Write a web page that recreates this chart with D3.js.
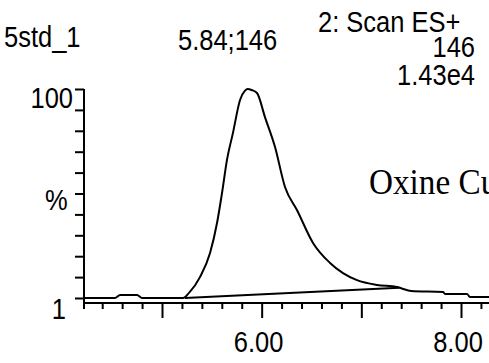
<!DOCTYPE html>
<html>
<head>
  <script src="https://d3js.org/d3.v7.min.js"></script>
  <style type="text/css">
    body { margin: 0; background: #fff; }
    svg { display: block; }
    .lbl { font-family: "Liberation Sans", Arial, sans-serif; font-size: 30px; fill: #000; }
    .axis path, .axis line { stroke: #000; stroke-width: 2px; }
  </style>
</head>
<body>
<svg id="chart" width="489" height="363"></svg>

<script type="text/javascript">
// chromatogram trace, time (min) vs relative intensity (%)
const times = [4.217, 4.528, 4.58, 4.75, 4.80, 5.211, 5.271, 5.381, 5.482, 5.552, 5.602, 5.652,
  5.712, 5.783, 5.833, 5.86, 5.90, 5.953, 6.033, 6.134, 6.234, 6.354, 6.515, 6.686, 6.816,
  6.956, 7.157, 7.358, 7.40, 7.50, 7.82, 7.84, 8.06, 8.09, 8.30];
const pct = [1, 1, 2.4, 2.4, 1, 1, 3.4, 10.9, 22.3, 36.5, 50.7, 66.4,
  79.2, 94.8, 99.2, 100, 99.5, 98.1, 86.7, 72.5, 53.6, 42.7, 27.1, 17.6, 12.8,
  9.5, 7.2, 6.2, 5.6, 4.3, 3.8, 2.9, 2.9, 1.5, 1.5];

// integration baseline drawn under the peak
const baseT = [5.23, 7.38];
const baseP = [1, 5.8];

const majorTicks = [5, 6, 7, 8];
const xLabels = ["6.00", "8.00"];
const yTicks = d3.range(0, 11).map(i => 1 + i * 9.9);

var svg = d3.select('#chart');

var x = d3.scaleLinear().domain([5, 8]).range([162, 461]);
var y = d3.scaleLinear().domain([1, 100]).range([298, 89]);

var axisY = 303;

// x axis: minor ticks
var minor = d3.range(4.4, 8.35, 0.2).filter(t => Math.abs(t - Math.round(t)) > 0.01);
svg.append('g').attr('class', 'axis')
  .attr('transform', `translate(0,${axisY})`)
  .call(d3.axisBottom(x).tickValues(minor).tickSize(6).tickSizeOuter(0).tickFormat(''))
  .select('.domain').remove();

svg.append('g').attr('class', 'axis')
  .attr('transform', `translate(0,${axisY})`)
  .call(d3.axisBottom(x).tickValues(majorTicks).tickSize(15).tickSizeOuter(0).tickFormat(''))
  .select('.domain').remove();

svg.append('line')
  .attr('x1', 84).attr('x2', 489)
  .attr('y1', axisY).attr('y2', axisY)
  .attr('stroke', '#000').attr('stroke-width', 2);
svg.append('line')
  .attr('x1', 84).attr('x2', 84)
  .attr('y1', axisY).attr('y2', axisY + 6)
  .attr('stroke', '#000').attr('stroke-width', 2);

// x labels
svg.selectAll('.xlab').data(xLabels).enter()
  .append('text')
  .attr('class', 'lbl')
  .attr('text-anchor', 'middle')
  .attr('transform', d => `translate(${x(+d) - 3},352) scale(0.85,1)`)
  .text(d => d);

// y axis
svg.append('g').attr('class', 'axis')
  .attr('transform', 'translate(84,0)')
  .call(d3.axisLeft(y).tickValues(yTicks).tickSize(9).tickSizeOuter(0).tickFormat(''))
  .select('.domain').remove();
svg.append('line')
  .attr('x1', 84).attr('x2', 84)
  .attr('y1', y(100)).attr('y2', axisY)
  .attr('stroke', '#000').attr('stroke-width', 2);

// trace
var line = d3.line()
  .x((d, i) => x(times[i]))
  .y((d, i) => y(pct[i]))
  .curve(d3.curveMonotoneX);

svg.append('path')
  .datum(pct)
  .attr('d', line)
  .attr('fill', 'none')
  .attr('stroke', '#000')
  .attr('stroke-width', 2);

svg.append('path')
  .datum(baseP)
  .attr('d', d3.line().x((d, i) => x(baseT[i])).y(d => y(d)))
  .attr('fill', 'none')
  .attr('stroke', '#000')
  .attr('stroke-width', 2);

// texts
function label(txt, tx, ty, anchor) {
  svg.append('text')
    .attr('class', 'lbl')
    .attr('text-anchor', anchor || 'start')
    .attr('transform', `translate(${tx},${ty}) scale(0.85,1)`)
    .text(txt);
}
label('5std_1', 4, 47);
label('5.84;146', 178, 50);
label('2: Scan ES+', 318, 32);
label('146', 475, 57, 'end');
label('1.43e4', 475, 85, 'end');
label('100', 73, y(100) + 19, 'end');
label('%', 45, 210);
label('1', 66, 319, 'end');

svg.append('text')
  .attr('font-family', '"Liberation Serif", "Times New Roman", serif')
  .attr('font-size', 35)
  .attr('transform', 'translate(369,194) scale(0.95,1)')
  .text('Oxine Cu');
</script>
</html>
